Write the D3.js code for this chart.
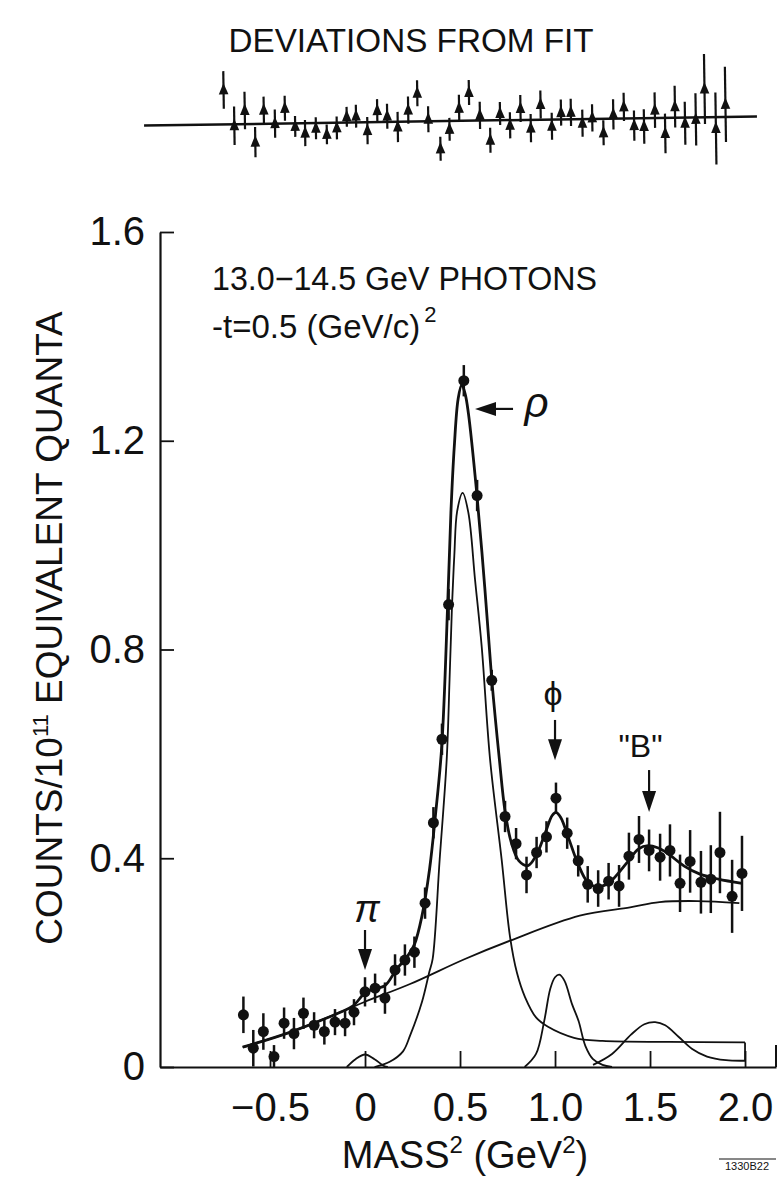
<!DOCTYPE html>
<html>
<head>
<meta charset="utf-8">
<script src="https://cdn.jsdelivr.net/npm/d3@7"></script>
<style>
  body { margin: 0; background: #fff; }
  text { font-family: "Liberation Sans", Arial, sans-serif; fill: #111; }
</style>
</head>
<body>
<svg id="chart"></svg>
<script>
const width = 780;
const height = 1182;

// measured points, main panel (mass^2 in GeV^2, counts per 10^11 equivalent quanta)
const massPoints = [-0.64, -0.588, -0.535, -0.479, -0.426, -0.374, -0.324, -0.268, -0.214, -0.158,
  -0.105, -0.058, 0.0, 0.053, 0.105, 0.158, 0.21, 0.26, 0.316, 0.36,
  0.405, 0.44, 0.52, 0.59, 0.667, 0.737, 0.795, 0.85, 0.903, 0.955,
  1.005, 1.064, 1.122, 1.172, 1.227, 1.282, 1.337, 1.389, 1.442, 1.495,
  1.553, 1.605, 1.658, 1.711, 1.768, 1.82, 1.868, 1.932, 1.984];
const countValues = [0.100, 0.036, 0.068, 0.020, 0.084, 0.064, 0.103, 0.080, 0.068, 0.086,
  0.084, 0.105, 0.144, 0.151, 0.132, 0.186, 0.205, 0.220, 0.314, 0.468,
  0.628, 0.886, 1.315, 1.095, 0.741, 0.480, 0.428, 0.368, 0.411, 0.441,
  0.515, 0.448, 0.395, 0.350, 0.342, 0.356, 0.347, 0.404, 0.436, 0.415,
  0.402, 0.415, 0.352, 0.394, 0.354, 0.360, 0.411, 0.327, 0.371];
const countErrors = [0.035, 0.035, 0.035, 0.022, 0.03, 0.03, 0.03, 0.025, 0.025, 0.025,
  0.025, 0.025, 0.028, 0.028, 0.03, 0.03, 0.03, 0.03, 0.03, 0.03,
  0.03, 0.03, 0.03, 0.03, 0.02, 0.03, 0.03, 0.035, 0.03, 0.03,
  0.03, 0.03, 0.03, 0.035, 0.035, 0.035, 0.04, 0.045, 0.045, 0.04,
  0.045, 0.05, 0.055, 0.06, 0.06, 0.065, 0.078, 0.07, 0.072];

// deviations from fit, top panel
const devMass = [-0.742, -0.688, -0.632, -0.579, -0.532, -0.474, -0.421, -0.368, -0.316, -0.259,
  -0.202, -0.149, -0.096, -0.047, 0.012, 0.065, 0.117, 0.172, 0.228, 0.277,
  0.333, 0.395, 0.444, 0.496, 0.549, 0.605, 0.658, 0.711, 0.763, 0.819,
  0.872, 0.925, 0.983, 1.032, 1.084, 1.144, 1.196, 1.254, 1.307, 1.363,
  1.416, 1.468, 1.526, 1.579, 1.632, 1.684, 1.741, 1.789, 1.846, 1.898];
const devValues = [0.066, -0.003, 0.026, -0.035, 0.026, 0.0, 0.029, -0.006, -0.019, -0.010,
  -0.022, -0.010, 0.011, 0.012, -0.016, 0.022, 0.011, -0.010, 0.022, 0.054,
  0.004, -0.053, -0.016, 0.024, 0.054, 0.010, -0.038, 0.013, -0.010, 0.022,
  -0.016, 0.029, -0.013, 0.013, 0.013, -0.008, 0.002, -0.027, 0.008, 0.022,
  -0.014, -0.016, 0.015, -0.030, 0.021, -0.011, -0.004, 0.054, -0.022, 0.024];
const devErrors = [0.036, 0.037, 0.036, 0.029, 0.026, 0.027, 0.024, 0.020, 0.025, 0.021,
  0.019, 0.022, 0.019, 0.022, 0.026, 0.022, 0.024, 0.029, 0.026, 0.025,
  0.025, 0.023, 0.022, 0.026, 0.024, 0.026, 0.024, 0.022, 0.025, 0.026,
  0.027, 0.027, 0.026, 0.025, 0.026, 0.026, 0.026, 0.024, 0.029, 0.027,
  0.029, 0.033, 0.034, 0.038, 0.040, 0.041, 0.050, 0.067, 0.069, 0.072];

// fitted curves, [mass^2, counts]
const totalFit = [[-0.644, 0.038], [-0.4, 0.066], [-0.13, 0.105], [-0.063, 0.117], [0.0, 0.142],
  [0.05, 0.15], [0.105, 0.156], [0.167, 0.188], [0.219, 0.21], [0.26, 0.235], [0.3, 0.29],
  [0.34, 0.38], [0.37, 0.48], [0.404, 0.615], [0.435, 0.886], [0.452, 1.062], [0.47, 1.19],
  [0.49, 1.28], [0.509, 1.307], [0.527, 1.29], [0.544, 1.253], [0.588, 1.10], [0.63, 0.92],
  [0.667, 0.743], [0.707, 0.59], [0.737, 0.49], [0.77, 0.43], [0.81, 0.395], [0.858, 0.386],
  [0.9, 0.405], [0.95, 0.45], [0.985, 0.482], [1.005, 0.488], [1.03, 0.478], [1.07, 0.44],
  [1.12, 0.39], [1.17, 0.355], [1.22, 0.345], [1.28, 0.352], [1.33, 0.37], [1.38, 0.392],
  [1.44, 0.418], [1.49, 0.424], [1.54, 0.42], [1.59, 0.41], [1.68, 0.385], [1.76, 0.37],
  [1.86, 0.36], [1.984, 0.352]];
const backgroundFit = [[-0.644, 0.038], [-0.4, 0.066], [-0.13, 0.105], [0.0, 0.125], [0.237, 0.159],
  [0.526, 0.207], [0.763, 0.242], [1.13, 0.29], [1.395, 0.306], [1.55, 0.316], [1.75, 0.318],
  [1.97, 0.314]];
const rhoFit = [[0.05, 0.0], [0.13, 0.01], [0.2, 0.03], [0.237, 0.06], [0.3, 0.125], [0.339, 0.183],
  [0.356, 0.207], [0.393, 0.398], [0.43, 0.59], [0.445, 0.743], [0.458, 0.886], [0.47, 0.98],
  [0.485, 1.065], [0.514, 1.10], [0.544, 1.062], [0.579, 0.934], [0.614, 0.806], [0.658, 0.59],
  [0.719, 0.398], [0.763, 0.25], [0.8, 0.18], [0.842, 0.134], [0.9, 0.095], [0.963, 0.077],
  [1.1, 0.056], [1.25, 0.05], [1.6, 0.048], [2.0, 0.047]];
const phiFit = [[0.84, 0.0], [0.9, 0.025], [0.943, 0.088], [0.975, 0.15], [1.0, 0.172], [1.023, 0.177],
  [1.05, 0.165], [1.09, 0.12], [1.124, 0.088], [1.16, 0.04], [1.2, 0.015], [1.25, 0.004], [1.3, 0.0]];
const bFit = [[1.2, 0.004], [1.3, 0.025], [1.4, 0.062], [1.47, 0.082], [1.527, 0.086], [1.58, 0.08],
  [1.65, 0.058], [1.72, 0.035], [1.8, 0.02], [1.9, 0.013], [2.0, 0.012]];
const piFit = [[-0.096, 0.0], [-0.05, 0.015], [0.0, 0.024], [0.05, 0.015], [0.1, 0.002], [0.12, 0.0]];

const xTicks = [-0.5, 0, 0.5, 1.0, 1.5, 2.0];
const xTickLabels = ["\u22120.5", "0", "0.5", "1.0", "1.5", "2.0"];
const yTicks = [0, 0.4, 0.8, 1.2, 1.6];
const yTickLabels = ["0", "0.4", "0.8", "1.2", "1.6"];

const svg = d3.select("#chart")
  .attr("width", width)
  .attr("height", height)
  .attr("viewBox", `0 0 ${width} ${height}`);

const ink = "#111";

// scales
const xScale = d3.scaleLinear().domain([-1.079, 2.163]).range([160, 776]);
const yScale = d3.scaleLinear().domain([0, 1.6]).range([1067, 232]);
const devBase = 121;
const devScale = d3.scaleLinear().domain([-0.1, 0.1]).range([devBase + 52.2, devBase - 52.2]);

// ---------- deviations panel ----------
svg.append("text")
  .attr("x", 411)
  .attr("y", 52)
  .attr("text-anchor", "middle")
  .attr("font-size", 34)
  .attr("textLength", 365)
  .attr("lengthAdjust", "spacingAndGlyphs")
  .text("DEVIATIONS FROM FIT");

const dev = svg.append("g")
  .attr("transform", `rotate(-0.85, 450, ${devBase})`);

dev.append("line")
  .attr("x1", xScale(-1.163))
  .attr("x2", xScale(2.063))
  .attr("y1", devScale(0))
  .attr("y2", devScale(0))
  .attr("stroke", ink)
  .attr("stroke-width", 2.5);

const devData = devMass.map((m, i) => ({ m, v: devValues[i], e: devErrors[i] }));

dev.selectAll(".dev-bar")
  .data(devData)
  .enter()
  .append("line")
  .attr("class", "dev-bar")
  .attr("x1", (d) => xScale(d.m))
  .attr("x2", (d) => xScale(d.m))
  .attr("y1", (d) => devScale(d.v - d.e))
  .attr("y2", (d) => devScale(d.v + d.e))
  .attr("stroke", ink)
  .attr("stroke-width", 2.2);

dev.selectAll(".dev-mark")
  .data(devData)
  .enter()
  .append("path")
  .attr("class", "dev-mark")
  .attr("transform", (d) => `translate(${xScale(d.m)},${devScale(d.v)})`)
  .attr("d", "M0,-7 L4.8,4.5 L-4.8,4.5 Z")
  .attr("fill", ink);

// ---------- main panel ----------
const yAxis = d3.axisLeft(yScale)
  .tickValues(yTicks)
  .tickFormat((d, i) => yTickLabels[i])
  .tickSize(-14)
  .tickSizeOuter(0)
  .tickPadding(15);

const yAxisG = svg.append("g")
  .attr("transform", `translate(${xScale.range()[0]},0)`)
  .call(yAxis);
yAxisG.select(".domain").attr("stroke", ink).attr("stroke-width", 2.2);
yAxisG.selectAll(".tick line").attr("stroke", ink).attr("stroke-width", 1.8);
yAxisG.selectAll(".tick text")
  .attr("font-size", 40)
  .attr("font-family", "Liberation Sans, Arial, sans-serif")
  .attr("fill", ink);

const xAxis = d3.axisBottom(xScale)
  .tickValues(xTicks)
  .tickFormat((d, i) => xTickLabels[i])
  .tickSize(-16)
  .tickSizeOuter(0)
  .tickPadding(26);

const xAxisG = svg.append("g")
  .attr("transform", `translate(0,${yScale(0)})`)
  .call(xAxis);
xAxisG.select(".domain").attr("stroke", ink).attr("stroke-width", 2.2);
xAxisG.selectAll(".tick line").attr("stroke", ink).attr("stroke-width", 1.8);
xAxisG.selectAll(".tick text")
  .attr("font-size", 40)
  .attr("font-family", "Liberation Sans, Arial, sans-serif")
  .attr("fill", ink);

// end tick at the right edge of the mass axis
svg.append("line")
  .attr("x1", xScale.range()[1])
  .attr("x2", xScale.range()[1])
  .attr("y1", yScale(0))
  .attr("y2", yScale(0) - 22)
  .attr("stroke", ink)
  .attr("stroke-width", 2);

// curves
const line = d3.line()
  .x((d) => xScale(d[0]))
  .y((d) => yScale(d[1]))
  .curve(d3.curveCatmullRom.alpha(0.5));

const components = [backgroundFit, rhoFit, phiFit, bFit, piFit];
svg.selectAll(".component")
  .data(components)
  .enter()
  .append("path")
  .attr("class", "component")
  .attr("d", line)
  .attr("fill", "none")
  .attr("stroke", ink)
  .attr("stroke-width", 1.8);

// little closing segment where the rho tail and the B tail end
svg.append("line")
  .attr("x1", xScale(2.0))
  .attr("x2", xScale(2.0))
  .attr("y1", yScale(rhoFit[rhoFit.length - 1][1]))
  .attr("y2", yScale(bFit[bFit.length - 1][1]))
  .attr("stroke", ink)
  .attr("stroke-width", 1.8);

svg.append("path")
  .datum(totalFit)
  .attr("d", line)
  .attr("fill", "none")
  .attr("stroke", ink)
  .attr("stroke-width", 2.8);

// data points with error bars
const points = massPoints.map((m, i) => ({ m, v: countValues[i], e: countErrors[i] }));

svg.selectAll(".err")
  .data(points)
  .enter()
  .append("line")
  .attr("class", "err")
  .attr("x1", (d) => xScale(d.m))
  .attr("x2", (d) => xScale(d.m))
  .attr("y1", (d) => yScale(d.v - d.e))
  .attr("y2", (d) => yScale(d.v + d.e))
  .attr("stroke", ink)
  .attr("stroke-width", 2.5);

svg.selectAll(".pt")
  .data(points)
  .enter()
  .append("circle")
  .attr("class", "pt")
  .attr("cx", (d) => xScale(d.m))
  .attr("cy", (d) => yScale(d.v))
  .attr("r", 5.5)
  .attr("fill", ink);

// arrows for the resonances
const downArrow = (m, vTop, vTip) => {
  const x = xScale(m);
  const y0 = yScale(vTop);
  const y1 = yScale(vTip);
  svg.append("line")
    .attr("x1", x).attr("x2", x)
    .attr("y1", y0).attr("y2", y1 - 14)
    .attr("stroke", ink).attr("stroke-width", 2.2);
  svg.append("path")
    .attr("d", `M${x - 7},${y1 - 21} L${x + 7},${y1 - 21} L${x},${y1} Z`)
    .attr("fill", ink);
};

downArrow(0, 0.2625, 0.186);      // pi
downArrow(1.0, 0.665, 0.588);     // phi
downArrow(1.495, 0.569, 0.4886);  // "B"

// rho arrow points left to the peak
const rhoY = yScale(1.261);
const rhoTip = xScale(0.579);
svg.append("line")
  .attr("x1", rhoTip + 14).attr("x2", xScale(0.779))
  .attr("y1", rhoY).attr("y2", rhoY)
  .attr("stroke", ink).attr("stroke-width", 2.2);
svg.append("path")
  .attr("d", `M${rhoTip},${rhoY} L${rhoTip + 21},${rhoY - 7} L${rhoTip + 21},${rhoY + 7} Z`)
  .attr("fill", ink);

svg.append("text")
  .attr("x", xScale(0.84)).attr("y", rhoY + 8)
  .attr("font-family", "Liberation Serif, serif")
  .attr("font-style", "italic")
  .attr("font-size", 42)
  .text("\u03c1");

svg.append("text")
  .attr("x", xScale(0.99)).attr("y", 705)
  .attr("text-anchor", "middle")
  .attr("font-family", "DejaVu Sans, sans-serif")
  .attr("font-size", 34)
  .text("\u03d5");

svg.append("text")
  .attr("x", xScale(1.45)).attr("y", 757)
  .attr("text-anchor", "middle")
  .attr("font-size", 32)
  .text("\"B\"");

svg.append("text")
  .attr("x", xScale(0.01)).attr("y", 922)
  .attr("text-anchor", "middle")
  .attr("font-family", "Liberation Serif, serif")
  .attr("font-style", "italic")
  .attr("font-size", 38)
  .text("\u03c0");

// run conditions
svg.append("text")
  .attr("x", 212).attr("y", 290)
  .attr("font-size", 33)
  .attr("textLength", 385)
  .attr("lengthAdjust", "spacingAndGlyphs")
  .text("13.0\u221214.5 GeV PHOTONS");

const tLine = svg.append("text")
  .attr("x", 212).attr("y", 338)
  .attr("font-size", 33);
tLine.append("tspan").text("-t=0.5 (GeV/c)");
tLine.append("tspan").attr("dy", -16).attr("dx", 4).attr("font-size", 22).text("2");

// axis titles
const yTitle = svg.append("text")
  .attr("transform", "translate(62,628) rotate(-90)")
  .attr("text-anchor", "middle")
  .attr("font-size", 37);
yTitle.append("tspan").text("COUNTS/10");
yTitle.append("tspan").attr("dy", -14).attr("font-size", 22).text("11");
yTitle.append("tspan").attr("dy", 14).text(" EQUIVALENT QUANTA");

const xTitle = svg.append("text")
  .attr("x", 465).attr("y", 1168)
  .attr("text-anchor", "middle")
  .attr("font-size", 38);
xTitle.append("tspan").text("MASS");
xTitle.append("tspan").attr("dy", -15).attr("font-size", 24).text("2");
xTitle.append("tspan").attr("dy", 15).text(" (GeV");
xTitle.append("tspan").attr("dy", -15).attr("font-size", 24).text("2");
xTitle.append("tspan").attr("dy", 15).text(")");

// figure number
svg.append("line")
  .attr("x1", 719).attr("x2", 776)
  .attr("y1", 1159).attr("y2", 1159)
  .attr("stroke", ink).attr("stroke-width", 1);
svg.append("text")
  .attr("x", 747).attr("y", 1170)
  .attr("text-anchor", "middle")
  .attr("font-size", 11)
  .text("1330B22");
</script>
</body>
</html>
